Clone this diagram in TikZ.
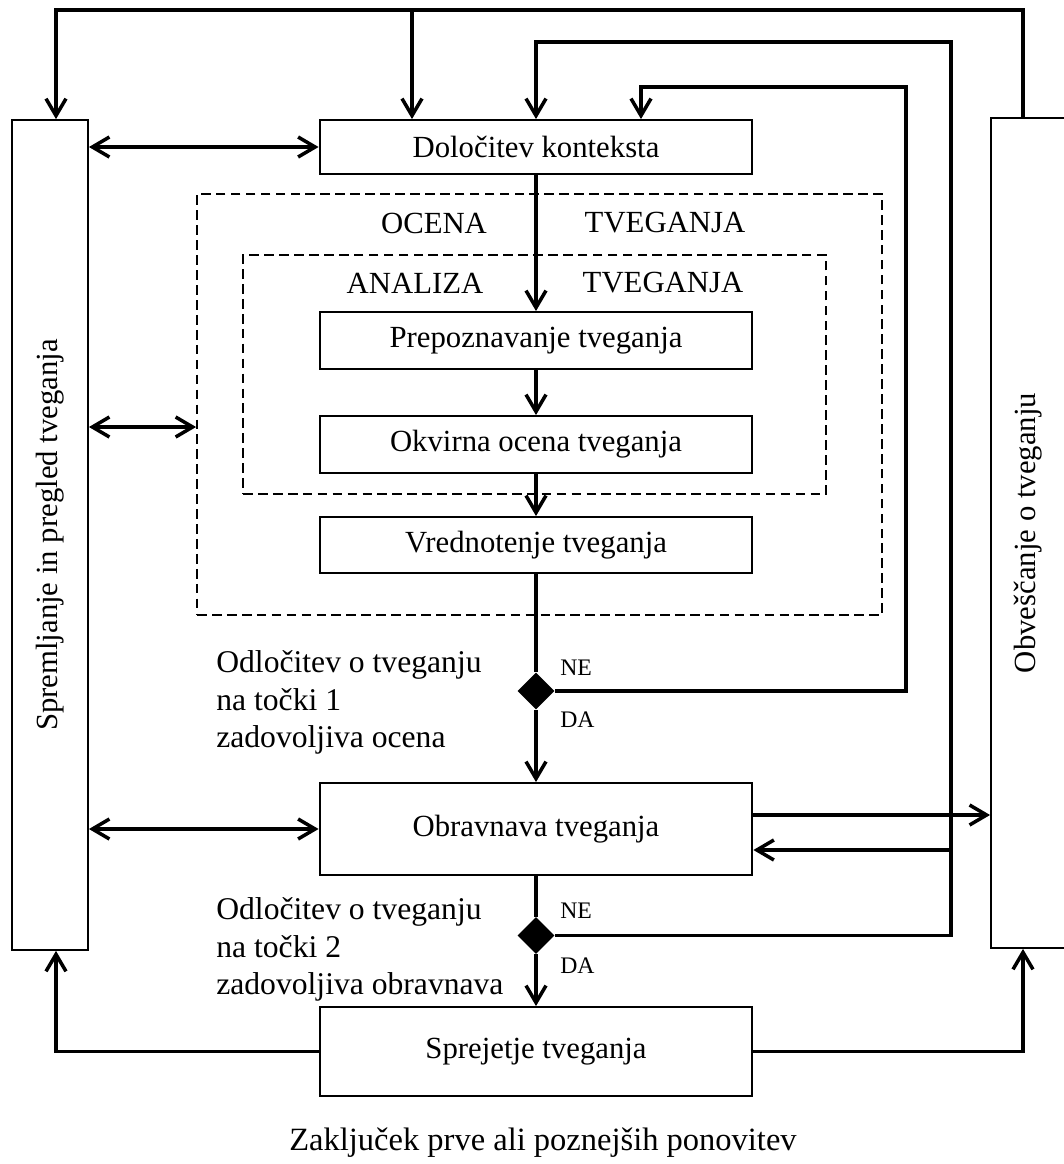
\documentclass[tikz,border=0pt]{standalone}
\usepackage{fontspec}
\setmainfont{Liberation Serif}
\usepackage{graphicx}
\usetikzlibrary{positioning,shapes.geometric,arrows.meta}

\begin{document}
\begin{tikzpicture}[
        x=0.02cm, y=-0.02cm,
        font=\fontsize{17.5}{21.5}\selectfont,
        box/.style={rectangle, draw, line width=1.1pt, minimum width=8.66cm, align=center, inner sep=0pt},
        tall/.style={rectangle, draw, line width=1.1pt, minimum width=1.52cm, minimum height=16.6cm, inner sep=0pt},
        zone/.style={rectangle, draw, dash pattern=on 5.5pt off 3pt, line width=1.1pt, inner sep=0pt},
        decision/.style={diamond, fill=black, inner sep=0pt, minimum width=0.74cm, minimum height=0.74cm},
        answer/.style={font=\fontsize{13.5}{16}\selectfont, anchor=west, inner sep=0pt},
        note/.style={font=\fontsize{18}{21.5}\selectfont, align=left, anchor=north west, inner sep=0pt},
        link/.style={line width=2pt},
        arrow/.style={-{Straight Barb[length=3.4mm,width=4mm]}, line width=2pt},
        twoway/.style={{Straight Barb[length=3.4mm,width=4mm]}-{Straight Barb[length=3.4mm,width=4mm]}, line width=2pt}
    ]
        \useasboundingbox (0,0) rectangle (1063,1164);

        % side boxes
        \node[tall] (mon) at (50,535) {\rotatebox{90}{Spremljanje in pregled tveganja}};
        \node[tall, minimum width=1.5cm] (com) at (1028.5,533) {\rotatebox{90}{Obveščanje o tveganju}};

        % dashed groups
        \node[zone, minimum width=13.7cm, minimum height=8.42cm] (ra) at (539.5,404.5) {};
        \node[zone, minimum width=11.66cm, minimum height=4.78cm] (an) at (534.5,374.5) {};
        \node (raA) at (434,223) {OCENA};
        \node (raB) at (665,223) {TVEGANJA};
        \node (anA) at (415,283) {ANALIZA};
        \node (anB) at (663,283) {TVEGANJA};

        % main chain
        \node[box, minimum height=1.08cm] (ctx) at (536,147) {Določitev konteksta};
        \node[box, minimum height=1.14cm] (id) at (536,340.5) {Prepoznavanje tveganja};
        \node[box, minimum height=1.14cm] (pre) at (536,444.5) {Okvirna ocena tveganja};
        \node[box, minimum height=1.12cm] (ev) at (536,545) {Vrednotenje tveganja};
        \node[decision] (d1) at (536,691) {};
        \node[box, minimum height=1.84cm] (tr) at (536,829) {Obravnava tveganja};
        \node[decision] (d2) at (536,935.5) {};
        \node[box, minimum height=1.78cm] (ac) at (536,1051.5) {Sprejetje tveganja};

        % decision labels
        \node[note] (q1) at (216,650) {Odločitev o tveganju\\na točki 1\\zadovoljiva ocena};
        \node[note] (q2) at (216,897) {Odločitev o tveganju\\na točki 2\\zadovoljiva obravnava};
        \node[answer] (no1) at (560,668) {NE};
        \node[answer] (yes1) at (560,720) {DA};
        \node[answer] (no2) at (560,911) {NE};
        \node[answer] (yes2) at (560,966) {DA};

        \node[font=\fontsize{18.5}{22}\selectfont] (end) at (543,1143) {Zaključek prve ali poznejših ponovitev};

        % bend points
        \coordinate (t0) at (56,10);
        \coordinate (t1) at (412,10);
        \coordinate (t2) at (1023,10);
        \coordinate (u0) at (536,42);
        \coordinate (u1) at (951,42);
        \coordinate (v0) at (641,87);
        \coordinate (v1) at (906,87);
        \coordinate (m1) at (0,427);
        \coordinate (r1) at (0,815);
        \coordinate (r2) at (951,850);

        \draw[arrow] (ctx) -- (id);
        \draw[arrow] (id) -- (pre);
        \draw[arrow] (pre) -- (ev);
        \draw[link] (ev) -- (d1);
        \draw[arrow] (d1) -- (tr);
        \draw[link] (tr) -- (d2);
        \draw[arrow] (d2) -- (ac);

        % feedback
        \draw[arrow] (com.north -| t2) -- (t2) -- (t0) -- (mon.north -| t0);
        \draw[arrow] (t1) -- (ctx.north -| t1);
        \draw[arrow] (d2.east) -| (u1) -- (u0) -- (ctx.north);
        \draw[arrow] (d1.east) -| (v1) -- (v0) -- (ctx.north -| v0);
        \draw[arrow] (r2) -- (tr.east |- r2);
        \draw[arrow] (tr.east |- r1) -- (com.west |- r1);

        \draw[twoway] (mon.east |- ctx) -- (ctx.west);
        \draw[twoway] (mon.east |- m1) -- (ra.west |- m1);
        \draw[twoway] (mon.east |- tr) -- (tr.west);

        \draw[arrow] (ac.west) -| (mon.south -| t0);
        \draw[arrow] (ac.east) -| (com.south -| t2);
    \end{tikzpicture}
\end{document}
